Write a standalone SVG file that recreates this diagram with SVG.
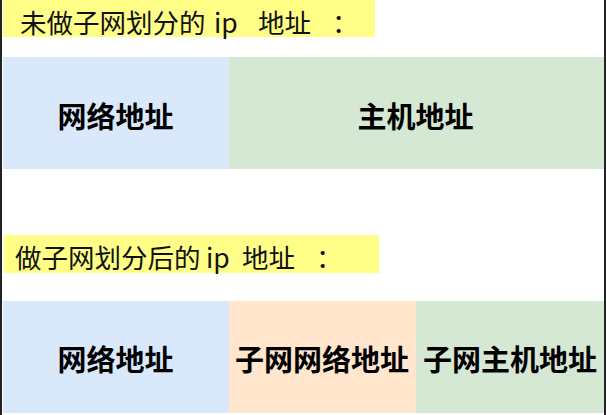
<svg xmlns="http://www.w3.org/2000/svg" width="606" height="415" viewBox="0 0 606 415">
  <style>
    .title { font-family: "Noto Sans CJK SC", "Noto Sans", sans-serif; font-size: 26.5px; fill: #111; }
    .lbl { font-family: "Noto Sans CJK SC", "Noto Sans", sans-serif; font-size: 29px; font-weight: bold; fill: #000; text-anchor: middle; }
    .hl { fill: #ffff88; }
    .blue { fill: #dae8fc; }
    .green { fill: #d5e8d4; }
    .orange { fill: #ffe6cc; }
  </style>
  <rect width="606" height="415" fill="#ffffff"/>
  <g id="title1">
    <rect class="hl" x="3" y="0" width="372" height="37"/>
    <text class="title" y="32.5"><tspan x="20">未做子网划分的</tspan><tspan x="214">ip</tspan><tspan x="258">地址</tspan><tspan x="332">：</tspan></text>
  </g>
  <g id="row1-network">
    <rect class="blue" x="3" y="57" width="226" height="112"/>
    <text class="lbl" x="115.5" y="128">网络地址</text>
  </g>
  <g id="row1-host">
    <rect class="green" x="229" y="57" width="375" height="112"/>
    <text class="lbl" x="415.5" y="128">主机地址</text>
  </g>
  <g id="title2">
    <rect class="hl" x="4" y="235" width="375" height="38"/>
    <text class="title" y="267.5"><tspan x="15">做子网划分后的</tspan><tspan x="206">ip</tspan><tspan x="242">地址</tspan><tspan x="316">：</tspan></text>
  </g>
  <g id="row2-network">
    <rect class="blue" x="3" y="301" width="226" height="112"/>
    <text class="lbl" x="115.5" y="371">网络地址</text>
  </g>
  <g id="row2-subnet-network">
    <rect class="orange" x="229" y="301" width="187" height="112"/>
    <text class="lbl" x="322" y="371">子网网络地址</text>
  </g>
  <g id="row2-subnet-host">
    <rect class="green" x="416" y="301" width="188" height="112"/>
    <text class="lbl" x="510" y="371">子网主机地址</text>
  </g>
  <g id="connectors"/>
  <rect x="0" y="0" width="2" height="415" fill="#222"/>
  <rect x="604" y="0" width="2" height="415" fill="#222"/>
</svg>
